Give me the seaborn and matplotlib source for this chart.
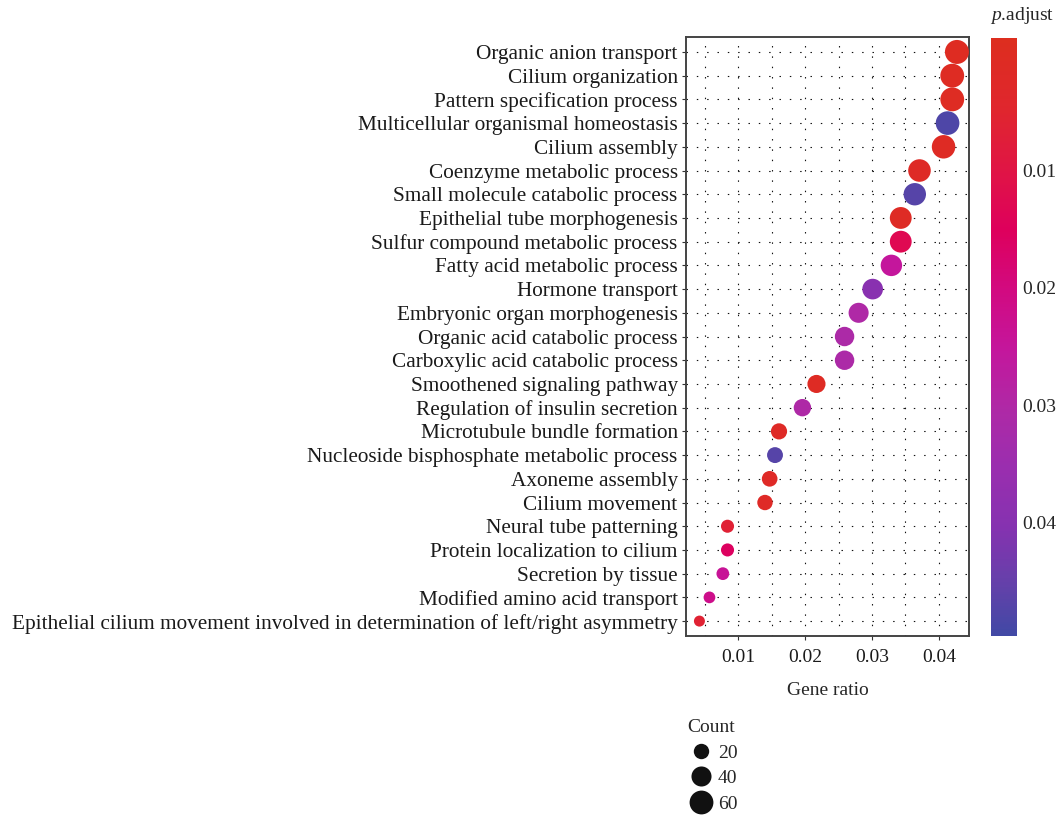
import numpy as np
import pandas as pd
import seaborn as sns
import matplotlib
matplotlib.use("Agg")
import matplotlib.pyplot as plt
from matplotlib.colors import LinearSegmentedColormap, Normalize
from matplotlib.lines import Line2D
from matplotlib.cm import ScalarMappable

# GO biological-process enrichment results
terms = [
    "Organic anion transport",
    "Cilium organization",
    "Pattern specification process",
    "Multicellular organismal homeostasis",
    "Cilium assembly",
    "Coenzyme metabolic process",
    "Small molecule catabolic process",
    "Epithelial tube morphogenesis",
    "Sulfur compound metabolic process",
    "Fatty acid metabolic process",
    "Hormone transport",
    "Embryonic organ morphogenesis",
    "Organic acid catabolic process",
    "Carboxylic acid catabolic process",
    "Smoothened signaling pathway",
    "Regulation of insulin secretion",
    "Microtubule bundle formation",
    "Nucleoside bisphosphate metabolic process",
    "Axoneme assembly",
    "Cilium movement",
    "Neural tube patterning",
    "Protein localization to cilium",
    "Secretion by tissue",
    "Modified amino acid transport",
    "Epithelial cilium movement involved in determination of left/right asymmetry",
]
gene_ratio = [0.0427, 0.0420, 0.0420, 0.0413, 0.0407, 0.0371, 0.0364, 0.0343,
              0.0343, 0.0329, 0.0301, 0.0280, 0.0259, 0.0259, 0.0217, 0.0196,
              0.0161, 0.0155, 0.0147, 0.0140, 0.0084, 0.0084, 0.0077, 0.0057,
              0.0042]
counts = [61, 60, 60, 59, 58, 53, 52, 49, 49, 47, 43, 40, 37, 37, 31, 28,
          23, 22, 21, 20, 12, 12, 11, 8, 6]
p_adjust = [0.0001, 0.0003, 0.0005, 0.0480, 0.0007, 0.0015, 0.0470, 0.0012,
            0.0130, 0.0252, 0.0395, 0.0303, 0.0310, 0.0310, 0.0010, 0.0305,
            0.0015, 0.0470, 0.0020, 0.0020, 0.0064, 0.0155, 0.0242, 0.0220,
            0.0060]

x_ticks = [0.01, 0.02, 0.03, 0.04]
cbar_ticks = [0.01, 0.02, 0.03, 0.04]
legend_counts = [20, 40, 60]

df = pd.DataFrame({"term": terms, "ratio": gene_ratio,
                   "Count": counts, "padj": p_adjust})

sns.set_style("white")
plt.rcParams["font.family"] = ["Liberation Serif", "DejaVu Serif"]
plt.rcParams["mathtext.fontset"] = "custom"
plt.rcParams["mathtext.it"] = "Liberation Serif:italic"
plt.rcParams["mathtext.rm"] = "Liberation Serif"

# red -> crimson -> magenta -> purple -> blue gradient
cmap = LinearSegmentedColormap.from_list("padj", [
    (0.00, "#DD2E1F"), (0.12, "#E0262E"), (0.22, "#E01545"),
    (0.32, "#DE005C"), (0.42, "#D20A80"), (0.52, "#C4169C"),
    (0.62, "#AF29A6"), (0.72, "#9A2EAF"), (0.82, "#8532B0"),
    (0.91, "#6640AA"), (1.00, "#4149A5")])
norm = Normalize(vmin=-0.0013, vmax=0.0497)

size_range = (37, 337)
size_norm = (0, 70)

fig = plt.figure(figsize=(10.62, 8.17), dpi=100)
ax = fig.add_axes([0.646, 0.2215, 0.2664, 0.7332])

sns.scatterplot(data=df, x="ratio", y="term", hue="padj", size="Count",
                palette=cmap, hue_norm=norm, sizes=size_range,
                size_norm=size_norm, linewidth=0, alpha=1, legend=False,
                ax=ax, zorder=3)

n = len(terms)
ax.set_ylim(n - 0.37, -0.63)
ax.set_xlim(0.0022, 0.0445)
ax.set_xticks(x_ticks)
ax.set_xticklabels([f"{v:.2f}" for v in x_ticks])
ax.set_xticks([0.005, 0.015, 0.025, 0.035], minor=True)
ax.set_ylabel("")
ax.set_xlabel("Gene ratio", fontsize=14, labelpad=12)

# fine dotted grid at every category and every 0.005 of gene ratio
dots = (0, (1.3, 8.0))
ax.grid(True, which="both", axis="x", color="#111111", linestyle=dots, linewidth=0.8)
ax.grid(True, which="major", axis="y", color="#111111", linestyle=dots, linewidth=0.8)
ax.set_axisbelow(True)
ax.tick_params(axis="y", which="major", length=3, width=0.8, color="#333333",
               labelsize=15.3, pad=3, left=True)
ax.tick_params(axis="x", which="major", length=3, width=0.8, color="#333333",
               labelsize=14, pad=6, bottom=True)
ax.tick_params(axis="x", which="minor", length=0)
for lab in ax.get_yticklabels() + ax.get_xticklabels():
    lab.set_color("#1a1a1a")
for sp in ax.spines.values():
    sp.set_color("#444444")
    sp.set_linewidth(1.4)

# colour bar for p.adjust
cax = fig.add_axes([0.9331, 0.2215, 0.0245, 0.732])
sm = ScalarMappable(norm=norm, cmap=cmap)
cb = fig.colorbar(sm, cax=cax)
cb.outline.set_visible(False)
cax.invert_yaxis()
cb.set_ticks(cbar_ticks)
cb.set_ticklabels([f"{v:.2f}" for v in cbar_ticks])
cax.tick_params(axis="y", direction="in", left=True, right=True, color="white",
                length=5, width=1, labelsize=14, pad=4)
fig.text(0.962, 0.981, "$p$.adjust", ha="center", va="center", fontsize=14)

# size legend for Count
def marker_area(c):
    lo, hi = size_norm
    return size_range[0] + (c - lo) / (hi - lo) * (size_range[1] - size_range[0])

handles = [Line2D([], [], marker="o", linestyle="", color="#111111",
                  markeredgewidth=0, markersize=np.sqrt(marker_area(c)))
           for c in legend_counts]
leg = fig.legend(handles, [str(c) for c in legend_counts], title="Count",
                 loc="upper left", bbox_to_anchor=(0.634, 0.136),
                 frameon=False, fontsize=14, title_fontsize=14,
                 handletextpad=0.2, labelspacing=0.40, borderpad=0.2,
                 handlelength=1.4)
leg._legend_box.align = "left"

fig.savefig("out.png", dpi=100)
